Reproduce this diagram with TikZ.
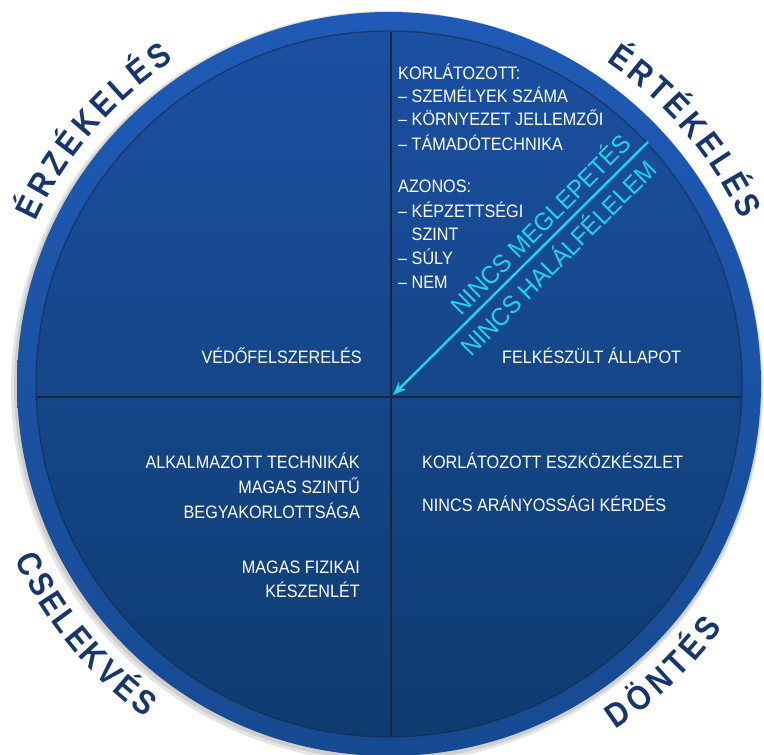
\documentclass[tikz,border=0pt]{standalone}
\usepackage{fontspec}
\setmainfont{Liberation Sans}
\newfontfamily\wfont{Liberation Sans}[FakeStretch=0.9]
\newfontfamily\cfont{Liberation Sans}[FakeStretch=0.95]
\newfontfamily\lfont{Liberation Sans}[FakeStretch=0.88]
\usetikzlibrary{arrows.meta,calc,decorations.text}
\definecolor{ringtop}{RGB}{31,90,182}
\definecolor{ringbot}{RGB}{22,74,145}
\definecolor{disktop}{RGB}{27,80,162}
\definecolor{diskbot}{RGB}{14,60,112}
\definecolor{lbl}{RGB}{24,54,110}
\definecolor{cy}{RGB}{30,214,232}
\definecolor{divl}{RGB}{25,38,60}
\newcommand\lblfmt{\lfont\bfseries\fontsize{34}{34}\selectfont\color{lbl}}
\begin{document}
\begin{tikzpicture}[x=1pt,y=1pt,
  wtxt/.style={font=\wfont\fontsize{18}{22}\selectfont, text=white, inner sep=0pt},
  ctxt/.style={font=\cfont\fontsize{25}{28}\selectfont, text=cy, inner sep=0pt, rotate=45, anchor=base},
  divider/.style={draw=divl, line width=2.2pt},
  arc label/.style={decorate, decoration={text along path, text={#1}, text align={fit to path}}}
]
\useasboundingbox (0,0) rectangle (764,755);
\coordinate (C) at (389,371);
% shadow
\fill[black, opacity=0.10] ($(C)+(-2,-3)$) circle[radius=376];
\fill[black, opacity=0.10] ($(C)+(-1,-2)$) circle[radius=374];
% ring and disk
\shade[top color=ringtop, bottom color=ringbot] (C) circle[radius=372];
\shade[top color=disktop, bottom color=diskbot] (C) circle[radius=353];
\draw[draw=divl, opacity=0.55, line width=1.4pt] (C) circle[radius=353];
% dividers
\coordinate (vt) at (391,723);
\coordinate (vb) at (391,19);
\coordinate (hl) at (37.2,358);
\coordinate (hr) at (740.8,358);
\draw[divider] (vt) -- (vb);
\draw[divider] (hl) -- (hr);
% outer labels
\path[arc label={|\lblfmt|ÉRZÉKELÉS}] ($(C)+(155.3:388.5)$) arc[start angle=155.3, end angle=123.6, radius=388.5];
\path[arc label={|\lblfmt|ÉRTÉKELÉS}] ($(C)+(56:388.5)$) arc[start angle=56, end angle=25, radius=388.5];
\path[arc label={|\lblfmt|CSELEKVÉS}] ($(C)+(205.1:413)$) arc[start angle=205.1, end angle=233.8, radius=413];
\path[arc label={|\lblfmt|DÖNTÉS}] ($(C)+(303.3:413)$) arc[start angle=303.3, end angle=323.9, radius=413];
% top right list
\node[wtxt, anchor=base west] (k1) at (398,675.5) {KORLÁTOZOTT:};
\node[wtxt, anchor=base west] (k2) at (398,652.5) {– SZEMÉLYEK SZÁMA};
\node[wtxt, anchor=base west] (k3) at (398,629) {– KÖRNYEZET JELLEMZŐI};
\node[wtxt, anchor=base west] (k4) at (398,604.5) {– TÁMADÓTECHNIKA};
\node[wtxt, anchor=base west] (a1) at (398,562) {AZONOS:};
\node[wtxt, anchor=base west] (a2) at (398,537.5) {– KÉPZETTSÉGI};
\node[wtxt, anchor=base west] (a3) at (398,514.5) {\phantom{– }SZINT};
\node[wtxt, anchor=base west] (a4) at (398,490.5) {– SÚLY};
\node[wtxt, anchor=base west] (a5) at (398,466.5) {– NEM};
% middle row
\node[wtxt, anchor=base east] (vedo) at (362,391.5) {VÉDŐFELSZERELÉS};
\node[wtxt, anchor=base west] (felk) at (502,391.5) {FELKÉSZÜLT ÁLLAPOT};
% bottom left
\node[wtxt, anchor=base east] (b1) at (360,286.5) {ALKALMAZOTT TECHNIKÁK};
\node[wtxt, anchor=base east] (b2) at (360,261.5) {MAGAS SZINTŰ};
\node[wtxt, anchor=base east] (b3) at (360,236.5) {BEGYAKORLOTTSÁGA};
\node[wtxt, anchor=base east] (b4) at (360,181.5) {MAGAS FIZIKAI};
\node[wtxt, anchor=base east] (b5) at (360,157.5) {KÉSZENLÉT};
% bottom right
\node[wtxt, anchor=base west] (d1) at (422,286.5) {KORLÁTOZOTT ESZKÖZKÉSZLET};
\node[wtxt, anchor=base west] (d2) at (422,243.5) {NINCS ARÁNYOSSÁGI KÉRDÉS};
% arrow and cyan labels
\coordinate (arS) at (648,613);
\coordinate (arE) at (393,360);
\draw[cy, line width=2.4pt, -{Stealth[length=13pt,width=10pt]}] (arS) -- (arE);
\node[ctxt] (nm) at ($($(arS)!0.374!(arE)$)+(-5.7,5.7)$) {NINCS MEGLEPETÉS};
\node[ctxt] (nh) at ($($(arS)!0.405!(arE)$)+(20.2,-20.2)$) {NINCS HALÁLFÉLELEM};
\end{tikzpicture}
\end{document}
